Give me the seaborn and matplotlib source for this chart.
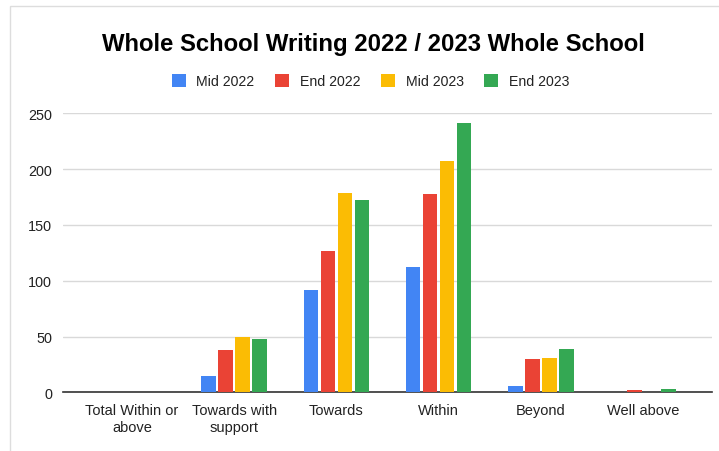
import matplotlib
matplotlib.use("Agg")
import matplotlib.pyplot as plt
import seaborn as sns
import pandas as pd
from matplotlib.patches import Rectangle

categories = ["Total Within or\nabove", "Towards with\nsupport", "Towards", "Within", "Beyond", "Well above"]
series = ["Mid 2022", "End 2022", "Mid 2023", "End 2023"]
mid_2022 = [0, 15, 92, 112, 6, 0]
end_2022 = [0, 38, 127, 178, 30, 2]
mid_2023 = [0, 50, 179, 207, 31, 0]
end_2023 = [0, 48, 172, 241, 39, 3]
colors = ["#4285F4", "#EA4335", "#FBBC04", "#34A853"]
yticks = [0, 50, 100, 150, 200, 250]

rows = []
for name, vals in zip(series, [mid_2022, end_2022, mid_2023, end_2023]):
    for cat, v in zip(categories, vals):
        rows.append({"Category": cat, "Period": name, "Count": v})
df = pd.DataFrame(rows)

sns.set_theme(style="white")
plt.rcParams["font.family"] = ["Liberation Sans", "DejaVu Sans"]

fig = plt.figure(figsize=(7.19, 4.52), dpi=100)
fig.patch.set_facecolor("white")
ax = fig.add_axes([63 / 719, 58.7 / 452, 649 / 719, 279 / 452])

sns.barplot(data=df, x="Category", y="Count", hue="Period", order=categories,
            hue_order=series, palette=colors, width=0.665, gap=0.14,
            saturation=1, linewidth=0, ax=ax, legend=False, zorder=3)

ax.set_ylim(0, 250)
ax.set_xlim(-0.674, 5.674)
ax.set_yticks(yticks)
ax.set_yticklabels([str(t) for t in yticks])
ax.set_xlabel("")
ax.set_ylabel("")
for s in ["top", "right", "left"]:
    ax.spines[s].set_visible(False)
ax.spines["bottom"].set_color("#333333")
ax.spines["bottom"].set_linewidth(1.2)
ax.spines["bottom"].set_zorder(2)
ax.yaxis.grid(True, color="#d9d9d9", linewidth=1)
ax.set_axisbelow(True)
ax.tick_params(axis="y", length=0, pad=8, labelsize=10.4, labelcolor="#222222")
ax.tick_params(axis="x", length=0, pad=8, labelsize=10.5, labelcolor="#222222")

fig.text(373.7 / 719, 1 - 44 / 452, "Whole School Writing 2022 / 2023 Whole School",
         ha="center", va="center", fontsize=17.2, fontweight="bold", color="black")

handles = [Rectangle((0, 0), 1, 1, facecolor=c, edgecolor="none") for c in colors]
fig.legend(handles, series, loc="center", bbox_to_anchor=(370.5 / 719, 1 - 82 / 452),
           ncol=4, frameon=False, fontsize=10.2, handlelength=1.0, handleheight=1.0,
           handletextpad=0.75, columnspacing=1.45, labelcolor="#222222")

# light frame around the chart card
fig.add_artist(Rectangle((9.5 / 719, -0.05), 1.2, 1 - 7 / 452 + 0.05,
                         transform=fig.transFigure, fill=False,
                         edgecolor="#dddddd", linewidth=1))

fig.savefig("out.png", dpi=100)
